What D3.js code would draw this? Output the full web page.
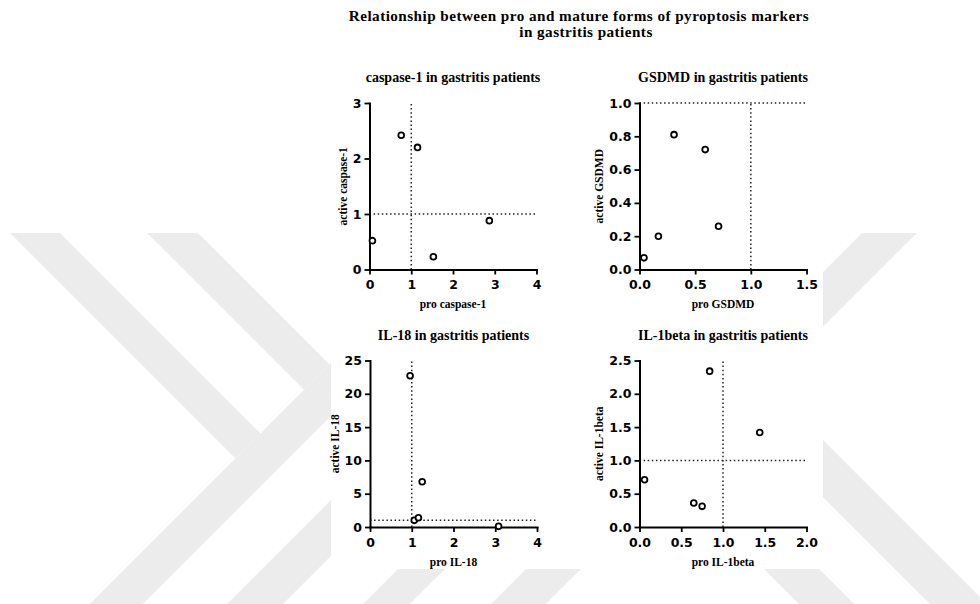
<!DOCTYPE html>
<html>
<head>
<meta charset="utf-8">
<script src="https://cdn.jsdelivr.net/npm/d3@7"></script>
<style>
  html, body { margin: 0; padding: 0; background: #fff; }
  svg { display: block; }
</style>
</head>
<body>
<script>
// ---------- data ----------
const caspasePro    = [0.07, 0.76, 1.15, 1.53, 2.87];
const caspaseActive = [0.52, 2.42, 2.20, 0.23, 0.88];
const caspaseXTicks = [0, 1, 2, 3, 4];
const caspaseYTicks = [0, 1, 2, 3];

const gsdmdPro    = [0.04, 0.17, 0.31, 0.59, 0.71];
const gsdmdActive = [0.07, 0.20, 0.81, 0.72, 0.26];
const gsdmdXTicks = [0, 0.5, 1.0, 1.5];
const gsdmdYTicks = [0, 0.2, 0.4, 0.6, 0.8, 1.0];

const il18Pro    = [0.96, 1.06, 1.16, 1.25, 3.08];
const il18Active = [22.7, 1.0, 1.4, 6.8, 0.1];
const il18XTicks = [0, 1, 2, 3, 4];
const il18YTicks = [0, 5, 10, 15, 20, 25];

const il1bPro    = [0.06, 0.65, 0.75, 0.84, 1.44];
const il1bActive = [0.71, 0.36, 0.31, 2.34, 1.42];
const il1bXTicks = [0, 0.5, 1.0, 1.5, 2.0];
const il1bYTicks = [0, 0.5, 1.0, 1.5, 2.0, 2.5];

const cutoff = 1;   // fold-change reference line on both axes

const mainTitle = ["Relationship between pro and mature forms of pyroptosis markers",
                   "in gastritis patients"];

// ---------- layout ----------
const W = 980, H = 604;
const PW = 167, PH = 166.5;
const SERIF = "'Liberation Serif', 'Times New Roman', serif";
const SANS  = "'DejaVu Sans', sans-serif";

const f0 = d3.format("d"), f1 = d3.format(".1f");

const panels = [
  { title: "caspase-1 in gastritis patients", xLabel: "pro caspase-1", yLabel: "active caspase-1",
    xs: caspasePro, ys: caspaseActive, xTicks: caspaseXTicks, yTicks: caspaseYTicks,
    fx: f0, fy: f0, left: 369.5, top: 103 },
  { title: "GSDMD in gastritis patients", xLabel: "pro GSDMD", yLabel: "active GSDMD",
    xs: gsdmdPro, ys: gsdmdActive, xTicks: gsdmdXTicks, yTicks: gsdmdYTicks,
    fx: f1, fy: f1, left: 639.5, top: 103 },
  { title: "IL-18 in gastritis patients", xLabel: "pro IL-18", yLabel: "active IL-18",
    xs: il18Pro, ys: il18Active, xTicks: il18XTicks, yTicks: il18YTicks,
    fx: f0, fy: f0, left: 370, top: 360.5 },
  { title: "IL-1beta in gastritis patients", xLabel: "pro IL-1beta", yLabel: "active IL-1beta",
    xs: il1bPro, ys: il1bActive, xTicks: il1bXTicks, yTicks: il1bYTicks,
    fx: f1, fy: f1, left: 639.5, top: 360.5 }
];

const svg = d3.select("body").append("svg")
  .attr("width", W).attr("height", H);

// ---------- background chevron watermark ----------
svg.append("defs").append("clipPath").attr("id", "wmclip")
  .append("rect").attr("x", 0).attr("y", 233).attr("width", W).attr("height", H - 233);
const bg = svg.append("g").attr("clip-path", "url(#wmclip)");
const bands = [
  [[10,233],[60,233],[260.5,433.5],[235.5,458.5]],
  [[90,604],[143,604],[373.5,373.5],[347,347]],
  [[147,233],[198,233],[329.5,364.5],[304,390]],
  [[227,604],[283,604],[393.5,493.5],[365.5,465.5]],
  [[363,604],[410,604],[457,557],[433.5,533.5]],
  [[491,604],[546,604],[917,233],[862,233]],
  [[738,412],[766.5,383.5],[987,604],[930,604]],
  [[672.5,477.5],[700,450],[854,604],[799,604]]
];
bg.selectAll("path").data(bands).join("path")
  .attr("d", d => "M" + d.join("L") + "Z")
  .attr("fill", "#ececec");

// white sheet carrying the figure
svg.append("rect").attr("x", 331).attr("y", 0).attr("width", 492).attr("height", 569)
  .attr("fill", "#fff");

// ---------- main title ----------
svg.append("text").attr("x", 579).attr("y", 21)
  .attr("text-anchor", "middle").attr("font-family", SERIF).attr("font-weight", "bold")
  .attr("font-size", 15.2).attr("letter-spacing", 0.45).text(mainTitle[0]);
svg.append("text").attr("x", 586).attr("y", 37)
  .attr("text-anchor", "middle").attr("font-family", SERIF).attr("font-weight", "bold")
  .attr("font-size", 15.2).attr("letter-spacing", 0.45).text(mainTitle[1]);

// ---------- panels ----------
panels.forEach(p => {
  const g = svg.append("g").attr("transform", `translate(${p.left},${p.top})`);
  const xMax = p.xTicks[p.xTicks.length - 1];
  const yMax = p.yTicks[p.yTicks.length - 1];
  const x = d3.scaleLinear().domain([0, xMax]).range([0, PW]);
  const y = d3.scaleLinear().domain([0, yMax]).range([PH, 0]);

  // dotted reference lines at 1
  g.append("line")
    .attr("x1", x(cutoff)).attr("x2", x(cutoff)).attr("y1", y(0)).attr("y2", y(yMax))
    .attr("stroke", "#222").attr("stroke-width", 1.5).attr("stroke-dasharray", "1.5,2.6");
  g.append("line")
    .attr("x1", x(0)).attr("x2", x(xMax)).attr("y1", y(cutoff)).attr("y2", y(cutoff))
    .attr("stroke", "#222").attr("stroke-width", 1.5).attr("stroke-dasharray", "1.5,2.6");

  // axes
  const xa = g.append("g").attr("transform", `translate(0,${PH})`)
    .call(d3.axisBottom(x).tickValues(p.xTicks).tickFormat(p.fx)
      .tickSize(5).tickSizeOuter(0).tickPadding(6));
  const ya = g.append("g")
    .call(d3.axisLeft(y).tickValues(p.yTicks).tickFormat(p.fy)
      .tickSize(5).tickSizeOuter(0).tickPadding(3));
  [xa, ya].forEach(a => {
    a.select(".domain").attr("stroke", "#000").attr("stroke-width", 2)
      .attr("stroke-linecap", "square");
    a.selectAll(".tick line").attr("stroke", "#000").attr("stroke-width", 1.8);
    a.selectAll(".tick text").attr("fill", "#000")
      .attr("font-family", SANS).attr("font-weight", "bold").attr("font-size", 12.5);
  });

  // points
  g.selectAll("circle").data(p.xs.map((v, i) => [v, p.ys[i]])).join("circle")
    .attr("cx", d => x(d[0])).attr("cy", d => y(d[1])).attr("r", 2.9)
    .attr("fill", "#fff").attr("stroke", "#000").attr("stroke-width", 1.8);

  // panel title
  g.append("text").attr("x", PW / 2).attr("y", -21)
    .attr("text-anchor", "middle").attr("font-family", SERIF).attr("font-weight", "bold")
    .attr("font-size", 14).text(p.title);

  // x-axis title
  g.append("text").attr("x", PW / 2).attr("y", PH + 38.5)
    .attr("text-anchor", "middle").attr("font-family", SERIF).attr("font-weight", "bold")
    .attr("font-size", 11.5).text(p.xLabel);

  // y-axis title, placed just left of the tick labels
  const bb = ya.node().getBBox();
  g.append("text")
    .attr("transform", `translate(${bb.x - 6},${PH / 2}) rotate(-90)`)
    .attr("text-anchor", "middle").attr("font-family", SERIF).attr("font-weight", "bold")
    .attr("font-size", 11.5).text(p.yLabel);
});
</script>
</body>
</html>
